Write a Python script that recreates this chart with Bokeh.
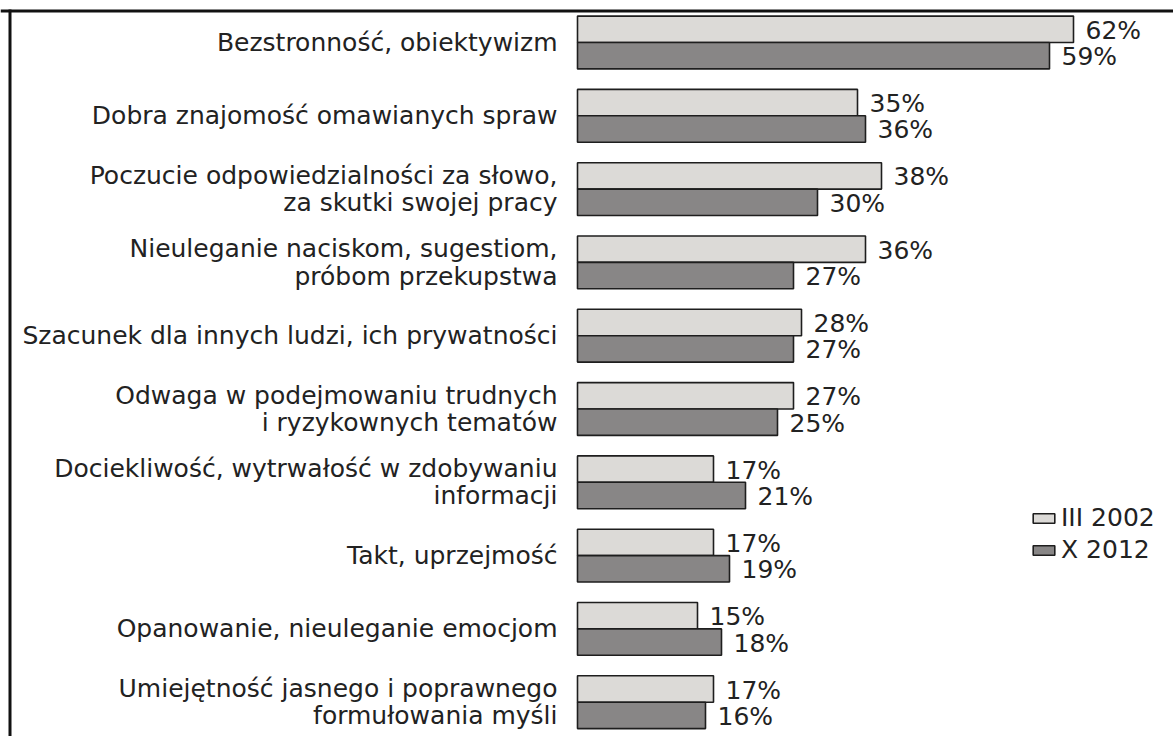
from bokeh.plotting import figure
from bokeh.models import ColumnDataSource, Range1d, Span, Legend, LegendItem
from bokeh.core.properties import value
from bokeh.embed import file_html
from bokeh.resources import INLINE

categories = [
    "Bezstronność, obiektywizm",
    "Dobra znajomość omawianych spraw",
    "Poczucie odpowiedzialności za słowo,\nza skutki swojej pracy",
    "Nieuleganie naciskom, sugestiom,\npróbom przekupstwa",
    "Szacunek dla innych ludzi, ich prywatności",
    "Odwaga w podejmowaniu trudnych\ni ryzykownych tematów",
    "Dociekliwość, wytrwałość w zdobywaniu\ninformacji",
    "Takt, uprzejmość",
    "Opanowanie, nieuleganie emocjom",
    "Umiejętność jasnego i poprawnego\nformułowania myśli",
]
values_2002 = [62, 35, 38, 36, 28, 27, 17, 17, 15, 17]
values_2012 = [59, 36, 30, 27, 27, 25, 21, 19, 18, 16]
series_names = ["III 2002", "X 2012"]

FONT = "DejaVu Sans"
FS = "25px"
LIGHT = "#dcdad7"
DARK = "#888686"
EDGE = "#1e1e1e"

n = len(categories)
ypos = [n - 1 - i for i in range(n)]
off = 0.18
src = ColumnDataSource(dict(
    cat=categories,
    y=ypos,
    y1=[y + off for y in ypos],
    y2=[y - off for y in ypos],
    v1=values_2002,
    v2=values_2012,
    t1=[f"{v}%" for v in values_2002],
    t2=[f"{v}%" for v in values_2012],
    zero=[0] * n,
))

W, H = 1173, 736
px_per_unit_x = 8.0
x0_px = 577
xs = -x0_px / px_per_unit_x
pitch = 73.3
top_center_px = 42.0
ye = (n - 1) + top_center_px / pitch
ys = ye - H / pitch

p = figure(width=W, height=H, output_backend="svg", toolbar_location=None,
           x_range=Range1d(xs, xs + W / px_per_unit_x),
           y_range=Range1d(ys, ye), min_border=0)
p.xaxis.visible = False
p.yaxis.visible = False
p.grid.visible = False
p.outline_line_color = None
p.background_fill_color = "white"
p.border_fill_color = "white"

r1 = p.hbar(y="y1", left="zero", right="v1", height=0.36, source=src,
            fill_color=LIGHT, line_color=EDGE, line_width=1.6)
r2 = p.hbar(y="y2", left="zero", right="v2", height=0.36, source=src,
            fill_color=DARK, line_color=EDGE, line_width=1.6)

p.text(x="v1", y="y1", text="t1", source=src, x_offset=12, y_offset=1,
       text_font=value(FONT), text_font_size=FS, text_color="#222222",
       text_align="left", text_baseline="middle")
p.text(x="v2", y="y2", text="t2", source=src, x_offset=12, y_offset=1,
       text_font=value(FONT), text_font_size=FS, text_color="#222222",
       text_align="left", text_baseline="middle")
p.text(x="zero", y="y", text="cat", source=src, x_offset=-20,
       text_font=value(FONT), text_font_size=FS, text_color="#222222",
       text_align="right", text_baseline="middle", text_line_height=0.94)

# frame lines (left and top)
top_y = ye - 10.5 / pitch
left_x = xs + 9.5 / px_per_unit_x
p.add_layout(Span(location=top_y, dimension="width",
                  line_color="#111111", line_width=3))
p.line(x=[left_x, left_x], y=[ys - 1, top_y + 1.5 / pitch],
       line_color="#111111", line_width=3)

legend = Legend(items=[LegendItem(label=series_names[0], renderers=[r1]),
                       LegendItem(label=series_names[1], renderers=[r2])],
                location=(1030, H - 564), orientation="vertical")
legend.glyph_width = 27
legend.glyph_height = 12
legend.label_height = 24
legend.label_standoff = 4
legend.spacing = 3
legend.padding = 0
legend.margin = 0
legend.border_line_color = None
legend.background_fill_alpha = 0
legend.label_text_font = FONT
legend.label_text_font_size = FS
legend.label_text_color = "#222222"
p.add_layout(legend, "center")

open("out.html", "w").write(file_html(p, INLINE))
